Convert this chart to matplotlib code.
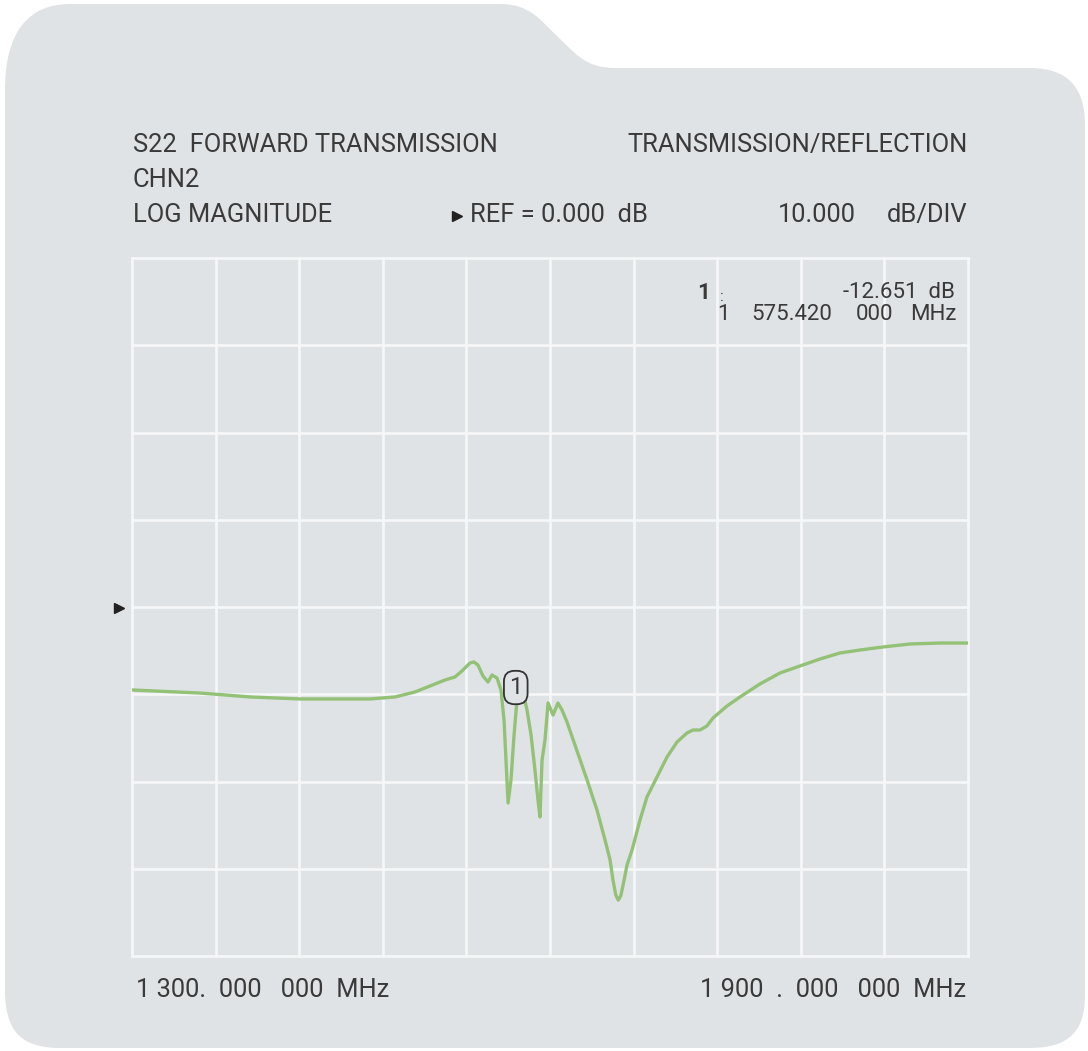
import matplotlib
matplotlib.use("Agg")
import matplotlib.pyplot as plt
from matplotlib.path import Path
from matplotlib.patches import PathPatch
from matplotlib.transforms import Affine2D
from matplotlib.lines import Line2D

W, H = 1088, 1051

# ---- data ----
freq_mhz = [1300, 1348.8, 1384.7, 1420.6, 1449.3, 1470.8, 1488.8, 1503.1, 1513.9,
            1524.6, 1531.8, 1536.8, 1542.6, 1545.4, 1548.3, 1551.9, 1555.5, 1558.4,
            1562.0, 1564.8, 1567.0, 1569.9, 1572.0, 1574.2, 1576.3, 1578.5, 1580.6,
            1583.5, 1586.4, 1589.2, 1591.4, 1592.8, 1594.3, 1596.4, 1598.6, 1602.2,
            1605.7, 1608.6, 1612.2, 1617.9, 1626.6, 1633.7, 1639.5, 1643.1, 1645.2,
            1647.2, 1649.0, 1650.8, 1652.8, 1655.3, 1658.9, 1664.6, 1669.6, 1676.8,
            1684.0, 1691.2, 1698.3, 1702.6, 1707.6, 1712.6, 1717.0, 1727.1, 1736.4,
            1750.7, 1765.1, 1779.4, 1793.8, 1808.1, 1822.5, 1839.0, 1858.4, 1879.9,
            1900]
mag_db = [-9.51, -9.86, -10.31, -10.54, -10.54, -10.54, -10.31, -9.74, -9.05,
          -8.37, -8.02, -7.33, -6.42, -6.30, -6.65, -7.91, -8.60, -7.79,
          -8.14, -9.51, -12.95, -22.46, -19.82, -14.67, -10.66, -9.40, -9.74,
          -11.80, -14.67, -18.68, -22.12, -24.07, -17.53, -15.24, -11.0, -12.38,
          -11.0, -11.80, -13.18, -15.81, -19.82, -23.26, -26.70, -28.99, -31.30,
          -33.00, -33.60, -33.10, -31.60, -29.57, -27.85, -24.41, -21.77, -19.48,
          -17.19, -15.47, -14.44, -14.10, -14.10, -13.64, -12.72, -11.34, -10.31,
          -8.82, -7.56, -6.76, -5.96, -5.27, -4.93, -4.58, -4.24, -4.13,
          -4.13]

f_start, f_stop = 1300, 1900
ref_db = 0.0
db_per_div = 10.0
n_xdiv, n_ydiv = 10, 8
marker_freq = 1575.42
marker_db = -12.651

# ---- style ----
BG = "#e0e3e6"
GRID = "#f6f7f8"
TRACE = "#93c276"
TXT = "#3a3a3a"
FONT = "Roboto"
BIG = 18.4
SMALL = 16

fig = plt.figure(figsize=(W / 100, H / 100), dpi=100)
fig.patch.set_facecolor("white")

pxT = Affine2D().scale(1 / W, -1 / H).translate(0, 1) + fig.transFigure

# background folder shape (pixel coords, y down)
verts = [
    (5, 90),
    (5, 990),
    (5, 1030), (20, 1048), (60, 1048),
    (1030, 1048),
    (1070, 1048), (1085, 1030), (1085, 995),
    (1085, 125),
    (1085, 90), (1070, 68), (1030, 68),
    (615, 68),
    (585, 68), (575, 53), (557, 36),
    (540, 20), (530, 4), (500, 4),
    (70, 4),
    (30, 4), (5, 30), (5, 90),
    (5, 90),
]
codes = [Path.MOVETO, Path.LINETO,
         Path.CURVE4, Path.CURVE4, Path.CURVE4,
         Path.LINETO,
         Path.CURVE4, Path.CURVE4, Path.CURVE4,
         Path.LINETO,
         Path.CURVE4, Path.CURVE4, Path.CURVE4,
         Path.LINETO,
         Path.CURVE4, Path.CURVE4, Path.CURVE4,
         Path.CURVE4, Path.CURVE4, Path.CURVE4,
         Path.LINETO,
         Path.CURVE4, Path.CURVE4, Path.CURVE4,
         Path.CLOSEPOLY]
fig.add_artist(PathPatch(Path(verts, codes), facecolor=BG, edgecolor="none",
                         transform=pxT, zorder=0))

# axes
left, right, top, bottom = 132, 968, 258, 956
ax = fig.add_axes([left / W, 1 - bottom / H, (right - left) / W, (bottom - top) / H])
ax.set_facecolor("none")
ytop = ref_db + db_per_div * 4
ybot = ref_db - db_per_div * 4
ax.set_xlim(f_start, f_stop)
ax.set_ylim(ybot, ytop)
for s in ax.spines.values():
    s.set_visible(False)
ax.set_xticks([])
ax.set_yticks([])
xdiv = (f_stop - f_start) / n_xdiv
for i in range(n_xdiv + 1):
    ax.axvline(f_start + i * xdiv, color=GRID, lw=1.9, zorder=1, clip_on=False)
for j in range(n_ydiv + 1):
    ax.axhline(ybot + j * db_per_div, color=GRID, lw=1.9, zorder=1, clip_on=False)

ax.plot(freq_mhz, mag_db, color=TRACE, lw=2.4, solid_joinstyle="round",
        solid_capstyle="round", zorder=3)

# marker box
ax.annotate("1", xy=(marker_freq, marker_db), xytext=(0, 21.5),
            textcoords="offset points", ha="center", va="center",
            fontsize=17, color=TXT, family=FONT,
            bbox=dict(boxstyle="round,pad=0.22,rounding_size=0.45", fc=BG, ec="#333333", lw=1.3),
            zorder=4)

def t(x, y, s, ha="left", size=BIG, weight="normal", va="center", **kw):
    fig.text(x / W, 1 - y / H, s, ha=ha, va=va, fontsize=size,
             color=TXT, family=FONT, weight=weight, **kw)

# header
t(133, 145, "S22  FORWARD TRANSMISSION")
t(968, 145, "TRANSMISSION/REFLECTION", ha="right")
t(133, 180, "CHN2")
t(133, 215, "LOG MAGNITUDE")
t(470, 215, "REF = 0.000  dB")
t(856, 215, "10.000", ha="right")
t(968, 215, "dB/DIV", ha="right")

# triangles
for (x, y) in [(457, 216), (119, 608)]:
    fig.add_artist(Line2D([x], [y], marker=">", markersize=7.5, color="#222222",
                          linestyle="none", transform=pxT))

# marker readout
t(697, 293, "1", size=SMALL, weight="bold")
t(720, 301, ":", size=11, va="baseline")
t(955, 292, "-12.651  dB", ha="right", size=SMALL)
t(717, 314, "1", size=SMALL)
t(832, 314, "575.420", ha="right", size=SMALL)
t(893, 314, "000", ha="right", size=SMALL)
t(957, 314, "MHz", ha="right", size=SMALL)

# footer
t(136, 990, "1 300.  000   000  MHz")
t(966, 990, "1 900  .  000   000  MHz", ha="right")

fig.savefig("out.png", dpi=100, facecolor="white")
